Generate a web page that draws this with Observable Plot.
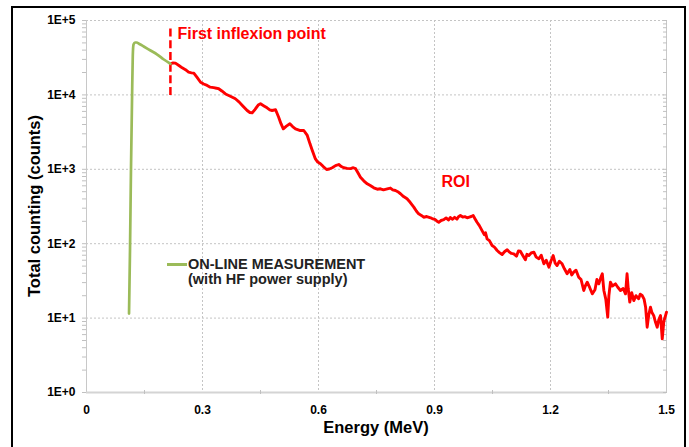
<!DOCTYPE html>
<html>
<head>
<meta charset="utf-8">
<script src="https://cdn.jsdelivr.net/npm/d3@7"></script>
<script src="https://cdn.jsdelivr.net/npm/@observablehq/plot@0.6"></script>
<style>
  html, body { margin: 0; padding: 0; background: #fff; overflow: hidden; }
  #wrap { position: relative; width: 689px; height: 447px; overflow: hidden; font-family: "Liberation Sans", Arial, sans-serif; font-weight: bold; }
  #wrap svg { position: absolute; left: 0; top: 0; }
  .frame { position: absolute; left: 11px; top: 6px; width: 675px; height: 520px; border: 2px solid #000; box-sizing: border-box; pointer-events: none; }
  .ytitle { position: absolute; left: 34px; top: 206px; transform: translate(-50%, -50%) rotate(-90deg); font-size: 16.5px; white-space: nowrap; color: #000; }
  .xtitle { position: absolute; left: 376px; top: 419px; transform: translateX(-50%); font-size: 16.5px; line-height: 1; white-space: nowrap; color: #000; }
  .legend-line { position: absolute; left: 167px; top: 262.5px; width: 20px; height: 3px; background: #9bbb59; }
  .legend-text { position: absolute; left: 188px; top: 257px; font-size: 14.5px; line-height: 14.5px; color: #222; white-space: nowrap; }
</style>
</head>
<body>
<div id="wrap"></div>
<script>
// Tick values and labels
const xTicks = [0, 0.3, 0.6, 0.9, 1.2, 1.5];
const xTickLabels = ["0", "0.3", "0.6", "0.9", "1.2", "1.5"];
const xMinorTicks = [0.15, 0.45, 0.75, 1.05, 1.35];
const yTicks = [1, 10, 100, 1000, 10000, 100000];
const yTickLabels = ["1E+0", "1E+1", "1E+2", "1E+3", "1E+4", "1E+5"];

// On-line measurement: part before the first inflexion point (green)
const energyGreen = [0.110, 0.1125, 0.115, 0.1177, 0.1197, 0.1216, 0.1254, 0.129, 0.138, 0.148, 0.1655, 0.183, 0.200, 0.217];
const countsGreen = [11.5, 81, 964, 8410, 33900, 47600, 50600, 50600, 48000, 44700, 39500, 34900, 29900, 26200];

// On-line measurement: part after the first inflexion point (red)
const energyRed = [0.217,0.224,0.230,0.239,0.2475,0.256,0.264,0.2715,0.2775,0.286,0.295,0.303,0.312,0.320,0.329,0.336,0.342,0.350,0.3595,0.372,0.385,0.395,0.403,0.4155,0.4225,0.4285,0.436,0.444,0.450,0.459,0.467,0.474,0.480,0.489,0.497,0.503,0.509,0.517,0.526,0.533,0.5405,0.553,0.562,0.571,0.578,0.584,0.592,0.598,0.605,0.613,0.621,0.628,0.6355,0.644,0.6525,0.659,0.6655,0.674,0.683,0.690,0.696,0.702,0.7085,0.717,0.726,0.735,0.743,0.752,0.760,0.768,0.778,0.786,0.792,0.799,0.805,0.812,0.820,0.829,0.837,0.8465,0.853,0.859,0.866,0.872,0.880,0.890,0.896,0.9025,0.907,0.911,0.917,0.924,0.930,0.936,0.941,0.946,0.952,0.958,0.962,0.967,0.973,0.9785,0.9845,0.990,0.995,1.000,1.005,1.010,1.016,1.023,1.029,1.032,1.036,1.042,1.049,1.055,1.062,1.068,1.075,1.081,1.088,1.094,1.099,1.105,1.112,1.117,1.122,1.128,1.135,1.139,1.144,1.150,1.157,1.163,1.170,1.176,1.183,1.189,1.196,1.201,1.207,1.212,1.217,1.223,1.230,1.236,1.243,1.250,1.255,1.260,1.266,1.273,1.279,1.286,1.290,1.295,1.301,1.308,1.315,1.320,1.325,1.330,1.334,1.338,1.343,1.348,1.351,1.355,1.360,1.368,1.374,1.381,1.388,1.394,1.398,1.401,1.405,1.410,1.4155,1.421,1.428,1.432,1.437,1.442,1.446,1.450,1.454,1.4585,1.462,1.467,1.471,1.476,1.480,1.4845,1.489,1.493,1.4975,1.500];
const countsRed = [26200,26900,26700,24800,23100,21800,20200,19800,19600,17200,14800,14000,13400,12700,12500,12300,12100,11300,10300,9600,8870,8000,7210,6170,5800,5740,6400,7300,7590,7100,6710,6300,6170,6310,5010,4100,3500,3800,4090,3750,3500,3320,3320,2850,2200,1790,1380,1250,1190,1080,994,1010,1050,1120,1160,1090,1050,1030,1020,1050,1020,900,783,700,638,600,564,540,547,530,547,560,530,519,500,469,430,401,360,310,275,252,240,227,232,223,215,210,200,194,205,210,222,208,225,213,226,214,230,239,228,231,223,228,232,239,215,194,175,150,132,140,116,110,94.6,90,81.1,76,71.6,78,82.8,77,74,73.1,68,80,79.3,70,60.8,72,69.4,75,76.9,66,62.7,70,53.7,60,48.3,58,69.4,55,50.9,58,53.7,46,39.4,45,38,41.4,44,35.5,33,23.5,27,30.4,26,21.2,24,33,28.9,35,39.4,23.5,18,10.3,20,30.4,27,28.9,26,23.5,25,21.2,39.4,25,16.4,22,17.2,20,18.2,21,20.1,18,14.0,7.55,11,14.0,12,10.8,9,7.55,9.5,10.8,5.27,9,10.8,12];

// Annotations
const inflexionEnergy = [0.217];
const inflexionLow = [9800];
const inflexionHigh = [85700];
const noteLabels = ["First inflexion point", "ROI"];
const noteEnergy = [0.2353, 0.918];
const noteCounts = [65900, 675];

const yMinor = [];
for (const d of yTicks.slice(0, -1)) for (let k = 1; k <= 9; k++) yMinor.push(d * k);
yMinor.push(100000);

const gridStyle = { stroke: "#c4c4c4", strokeOpacity: 1, strokeDasharray: "2,2", strokeWidth: 1 };

const chart = Plot.plot({
  width: 689,
  height: 447,
  marginLeft: 86,
  marginRight: 23,
  marginTop: 20,
  marginBottom: 55,
  style: { fontFamily: "Liberation Sans, Arial, sans-serif", background: "transparent", overflow: "visible" },
  x: { domain: [0, 1.5] },
  y: { type: "log", domain: [1, 100000] },
  marks: [
    Plot.gridY(yTicks.slice(1), gridStyle),
    Plot.gridX(xTicks.slice(1, -1), gridStyle),
    Plot.ruleX([0], { stroke: "#c8c8c8", strokeWidth: 1 }),
    Plot.ruleX([1.5], { stroke: "#c8c8c8", strokeWidth: 1 }),
    Plot.ruleY([1], { stroke: "#d4d4d4", strokeWidth: 2 }),
    Plot.axisY(yMinor, { anchor: "left", tickSize: 4, tickFormat: () => "", stroke: "#c0c0c0" }),
    Plot.axisY(yMinor, { anchor: "right", tickSize: 4, dx: -4, tickFormat: () => "", stroke: "#c0c0c0" }),
    Plot.axisX(xMinorTicks, { anchor: "bottom", tickSize: 4, dy: -2, tickFormat: () => "", stroke: "#c0c0c0" }),
    Plot.axisY(yTicks, { anchor: "left", tickSize: 0, tickPadding: 11, fontSize: 12, fontWeight: "bold", fill: "#000", tickFormat: d => yTickLabels[yTicks.indexOf(d)], label: null }),
    Plot.axisX(xTicks, { anchor: "bottom", tickSize: 0, tickPadding: 13, fontSize: 12, fontWeight: "bold", fill: "#000", tickFormat: d => xTickLabels[xTicks.indexOf(d)], label: null }),
    Plot.ruleX(inflexionEnergy, { y1: inflexionLow, y2: inflexionHigh, stroke: "#ff0000", strokeWidth: 2.5, strokeDasharray: "8,3.7" }),
    Plot.line(countsRed, { x: energyRed, y: countsRed, stroke: "#ff0000", strokeWidth: 2.9, strokeLinejoin: "round" }),
    Plot.line(countsGreen, { x: energyGreen, y: countsGreen, stroke: "#9bbb59", strokeWidth: 2.7, curve: "monotone-x" }),
    Plot.text(noteLabels, { x: noteEnergy, y: noteCounts, text: d => d, textAnchor: "start", fill: "#ff0000", fontSize: 16, fontWeight: "bold" })
  ]
});

const wrap = document.getElementById("wrap");
wrap.appendChild(chart);
wrap.insertAdjacentHTML("beforeend",
  '<div class="ytitle">Total counting (counts)</div>' +
  '<div class="xtitle">Energy (MeV)</div>' +
  '<div class="legend-line"></div>' +
  '<div class="legend-text">ON-LINE MEASUREMENT<br>(with HF power supply)</div>' +
  '<div class="frame"></div>');
</script>
</body>
</html>
